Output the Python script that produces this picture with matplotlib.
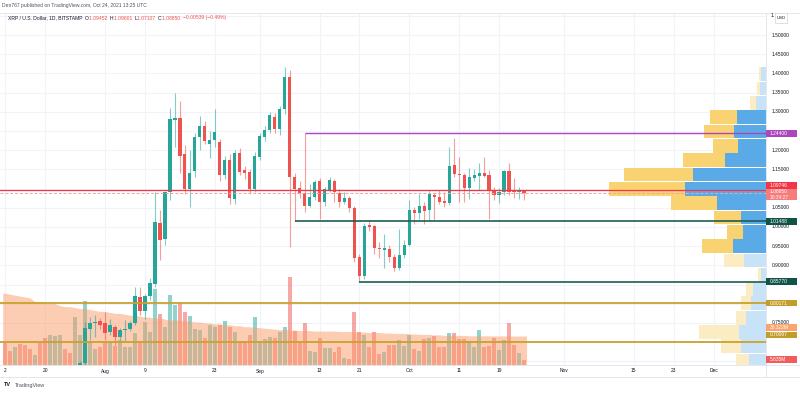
import numpy as np
import matplotlib
matplotlib.use("Agg")
import matplotlib.pyplot as plt
import matplotlib.transforms as mtransforms
from matplotlib.patches import Rectangle

# daily candles, XRP/USD Bitstamp, Jul 12 .. Oct 24 2021 (index 0 = Jul 12)
opens = [0.620, 0.600, 0.590, 0.600, 0.575, 0.565, 0.560, 0.575, 0.550, 0.520,
         0.590, 0.600, 0.610, 0.605, 0.600, 0.620, 0.647, 0.734, 0.749, 0.755,
         0.749, 0.727, 0.739, 0.714, 0.732, 0.735, 0.749, 0.817, 0.780, 0.819,
         0.852, 1.011, 0.968, 1.092, 1.279, 1.285, 1.189, 1.098, 1.146, 1.234,
         1.263, 1.216, 1.227, 1.222, 1.135, 1.175, 1.072, 1.192, 1.149, 1.142,
         1.098, 1.183, 1.235, 1.253, 1.287, 1.255, 1.306, 1.390, 1.131, 1.101,
         1.088, 1.055, 1.079, 1.120, 1.064, 1.096, 1.121, 1.089, 1.066, 1.075,
         1.049, 0.923, 0.872, 1.005, 1.002, 0.946, 0.940, 0.942, 0.923, 0.892,
         0.927, 0.953, 1.043, 1.037, 1.055, 1.044, 1.083, 1.077, 1.068, 1.063,
         1.161, 1.138, 1.135, 1.101, 1.127, 1.134, 1.141, 1.135, 1.095, 1.083,
         1.092, 1.147, 1.095, 1.090, 1.09452]
highs = [0.630, 0.612, 0.610, 0.605, 0.590, 0.580, 0.585, 0.580, 0.555, 0.600,
         0.605, 0.620, 0.615, 0.612, 0.630, 0.650, 0.753, 0.766, 0.771, 0.762,
         0.779, 0.760, 0.745, 0.738, 0.758, 0.755, 0.845, 0.845, 0.825, 0.867,
         1.092, 1.044, 1.095, 1.309, 1.348, 1.329, 1.214, 1.200, 1.245, 1.289,
         1.275, 1.250, 1.306, 1.230, 1.185, 1.190, 1.200, 1.205, 1.160, 1.150,
         1.195, 1.245, 1.262, 1.300, 1.298, 1.315, 1.416, 1.410, 1.140, 1.120,
         1.244, 1.113, 1.123, 1.128, 1.105, 1.131, 1.125, 1.100, 1.092, 1.080,
         1.055, 0.930, 1.010, 1.017, 1.005, 0.960, 0.982, 0.953, 0.930, 0.994,
         0.966, 1.070, 1.051, 1.086, 1.066, 1.096, 1.089, 1.096, 1.092, 1.209,
         1.231, 1.183, 1.140, 1.153, 1.150, 1.166, 1.183, 1.148, 1.105, 1.101,
         1.148, 1.167, 1.127, 1.105, 1.09601]
lows = [0.595, 0.585, 0.585, 0.570, 0.560, 0.555, 0.555, 0.540, 0.510, 0.515,
        0.575, 0.590, 0.595, 0.590, 0.585, 0.612, 0.640, 0.706, 0.714, 0.735,
        0.706, 0.718, 0.693, 0.705, 0.701, 0.728, 0.745, 0.771, 0.760, 0.810,
        0.845, 0.914, 0.953, 1.070, 1.209, 1.140, 1.085, 1.053, 1.130, 1.200,
        1.215, 1.180, 1.209, 1.120, 1.125, 1.060, 1.060, 1.135, 1.125, 1.085,
        1.090, 1.175, 1.225, 1.245, 1.245, 1.240, 1.295, 0.949, 1.01488, 1.075,
        1.040, 1.051, 1.070, 1.022, 1.055, 1.090, 1.066, 1.051, 1.060, 1.040,
        0.910, 0.8577, 0.865, 0.990, 0.930, 0.918, 0.892, 0.910, 0.886, 0.887,
        0.920, 0.950, 1.009, 1.020, 1.009, 1.018, 1.018, 1.061, 1.051, 1.057,
        1.130, 1.066, 1.066, 1.074, 1.120, 1.096, 1.130, 1.022, 1.070, 1.063,
        1.083, 1.083, 1.075, 1.072, 1.07107]
closes = [0.600, 0.590, 0.600, 0.575, 0.565, 0.560, 0.575, 0.550, 0.520, 0.590,
          0.600, 0.610, 0.605, 0.600, 0.620, 0.645, 0.736, 0.751, 0.753, 0.745,
          0.725, 0.745, 0.714, 0.732, 0.735, 0.749, 0.819, 0.780, 0.819, 0.853,
          1.014, 0.966, 1.090, 1.280, 1.285, 1.185, 1.098, 1.141, 1.234, 1.263,
          1.225, 1.227, 1.248, 1.135, 1.175, 1.075, 1.192, 1.144, 1.140, 1.098,
          1.186, 1.237, 1.253, 1.292, 1.255, 1.306, 1.390, 1.129, 1.098, 1.088,
          1.055, 1.079, 1.116, 1.064, 1.098, 1.122, 1.090, 1.066, 1.075, 1.049,
          0.920, 0.872, 1.003, 1.001, 0.944, 0.942, 0.946, 0.921, 0.892, 0.927,
          0.953, 1.043, 1.036, 1.055, 1.042, 1.086, 1.077, 1.066, 1.063, 1.159,
          1.138, 1.136, 1.101, 1.129, 1.135, 1.141, 1.134, 1.095, 1.083, 1.092,
          1.146, 1.092, 1.090, 1.095, 1.08850]

# volume in millions XRP
volume = [22.7, 15, 18.5, 22, 21, 16.4, 10.5, 22.7, 27.9, 31.4,
          30.3, 31.4, 16.4, 12.2, 49.9, 31.4, 67, 24, 17, 18.5,
          22.7, 24, 20, 26, 18.5, 18.5, 33, 24, 45, 35,
          79, 53, 40, 73, 63, 65, 55, 51, 38, 37,
          28, 42, 40, 42, 46, 40, 35, 24, 24, 31,
          50, 24, 27, 29, 28, 35, 40, 92, 36, 24,
          44, 15, 14, 28, 17.4, 17.4, 14, 18.5, 7, 6,
          55, 34, 31, 19, 35, 11.5, 14, 21, 21, 26,
          20, 31, 16.6, 15, 27, 28, 30, 19, 19, 33,
          33, 27, 27, 25, 19, 37, 18.6, 20, 28, 16,
          26.6, 43.6, 21, 13, 5.635]
# volume moving average (millions)
volumeMA = [75, 74, 73, 72, 71, 70, 66, 66, 65, 65,
            64, 62, 61, 61, 60, 59, 59, 58, 57, 56,
            56, 55, 54, 54, 53, 52, 52, 51, 50, 50,
            49, 49, 48, 47, 47, 47, 46, 46, 45, 45,
            44, 44, 43, 43, 42, 42, 41, 41, 40, 40,
            39.5, 39, 38.5, 38, 37.5, 37, 37, 36.5, 36.5, 36,
            36, 36, 35.5, 35.5, 35.5, 35.5, 35.5, 35, 35, 35,
            34.5, 34.5, 34.5, 34, 34, 34, 33.5, 33.5, 33, 33,
            33, 32.5, 32.5, 32, 32, 32, 31.5, 31.5, 31, 31,
            31, 31, 31, 30.5, 30.5, 30.5, 30.5, 30.5, 30.4, 30.4,
            30.4, 30.3, 30.3, 30.3, 30.322]

# visible range volume profile: bin bottoms, up / down volume, value area flag
vpBottom = [0.634, 0.671, 0.708, 0.745, 0.783, 0.820, 0.857, 0.894, 0.931, 0.969,
            1.006, 1.043, 1.081, 1.118, 1.155, 1.193, 1.230, 1.267, 1.305, 1.342, 1.379]
vpUp = [17, 25, 27, 20, 15, 13, 5, 21.7, 33.3, 22.7,
        24.7, 49.3, 80.7, 73.3, 41.3, 28, 32, 29, 10.5, 6.5, 5]
vpDown = [13, 20, 40, 10, 10, 7, 3, 20.3, 30.4, 16,
          27.3, 46, 76, 68.4, 42, 25.3, 30, 27, 6, 2.5, 2]
vpValueArea = [False] * 8 + [True] * 10 + [False] * 3
vpBinHeight = 0.0373

# x axis
tickDays = [0, 8, 20, 28, 42, 51, 63, 71, 81, 91, 99, 112, 126, 134, 142]
tickLabels = ["2", "20", "Aug", "9", "23", "Sep", "13", "21", "Oct", "11", "19",
              "Nov", "15", "23", "Dec"]
priceTicks = [1.50, 1.45, 1.40, 1.35, 1.30, 1.20, 1.15, 1.05, 1.00, 0.95, 0.90, 0.75]
gridPrices = np.arange(0.65, 1.56, 0.05)

GREEN = "#26a69a"
RED = "#ef5350"
GOLD = "#c9a22c"
DARKGREEN = "#1d5e50"
PURPLE = "#ab47bc"

FW, FH = 800, 393
fig = plt.figure(figsize=(FW / 100, FH / 100), dpi=100)
rect = [0, 1 - 365 / FH, 766 / FW, (365 - 13) / FH]
axv = fig.add_axes(rect)
ax = fig.add_axes(rect)
ax.set_zorder(2)
axv.set_zorder(1)
ax.patch.set_visible(False)

xmin, xmax = -1.055, 152.5
ax.set_xlim(xmin, xmax)
axv.set_xlim(xmin, xmax)
ax.set_ylim(0.6406, 1.5573)
axv.set_ylim(0, 368)

for a in (ax, axv):
    a.set_xticks([])
    a.set_yticks([])
    for s in a.spines.values():
        s.set_visible(False)

idx = np.arange(len(opens))
o = np.array(opens)
c = np.array(closes)
up = c >= o
colors = np.where(up, GREEN, RED)

# grid
gridTrans = mtransforms.blended_transform_factory(axv.transAxes, ax.transData)
for p in gridPrices:
    axv.plot([0, 1], [p, p], transform=gridTrans, color="#f0f3fa", lw=0.8, zorder=0)
for d in tickDays:
    axv.axvline(d, color="#f0f3fa", lw=0.8, zorder=0)

# volume bars + MA area
volColors = np.where(up, "#26a69a80", "#ef535080")
axv.bar(idx, volume, width=0.8, color=volColors, zorder=1)
maX = np.r_[idx[0] - 0.5, idx, idx[-1] + 0.5]
maY = np.r_[volumeMA[0], volumeMA, volumeMA[-1]]
axv.fill_between(maX, 0, maY, color="#fb9b69", alpha=0.5, lw=0, zorder=2)

# candles
wickColors = np.where(up, "#26a69a90", "#ef535090")
ax.vlines(idx, lows, highs, colors=wickColors, lw=0.8, zorder=2)
bodyH = np.maximum(np.abs(c - o), 0.002)
ax.bar(idx, bodyH, bottom=np.minimum(o, c), width=0.66, color=colors, zorder=3)

# volume profile on the right edge
vpTrans = mtransforms.blended_transform_factory(ax.transAxes, ax.transData)
vpScale = (156.7 / 766) / max(u + d for u, d in zip(vpUp, vpDown))
for b, u, d, va in zip(vpBottom, vpUp, vpDown, vpValueArea):
    upC = "#5aaae8" if va else "#c8e2f7"
    dnC = "#f9d271" if va else "#fcecc4"
    wu, wd = u * vpScale, d * vpScale
    ax.add_patch(Rectangle((1 - wu, b + 0.0008), wu, vpBinHeight - 0.0016,
                           transform=vpTrans, facecolor=upC, lw=0, zorder=4))
    ax.add_patch(Rectangle((1 - wu - wd, b + 0.0008), wd, vpBinHeight - 0.0016,
                           transform=vpTrans, facecolor=dnC, lw=0, zorder=4))

# drawn levels
ax.hlines(1.244, 60, xmax, color=PURPLE, lw=1.0, zorder=5)
ax.hlines(1.01488, 58, xmax, color=DARKGREEN, lw=1.2, zorder=5)
ax.hlines(0.85770, 71, xmax, color=DARKGREEN, lw=1.2, zorder=5)
ax.axhline(0.80171, color=GOLD, lw=1.3, zorder=5)
ax.axhline(0.70097, color=GOLD, lw=1.3, zorder=5)
ax.axhline(1.0885, color="#f5a3a3", lw=0.7, ls=(0, (3, 2)), zorder=5)
ax.axhline(1.09746, color="#f23645", lw=0.9, zorder=6)

# frame lines
def figLine(x0, y0, x1, y1, color="#e0e3eb"):
    fig.add_artist(plt.Line2D([x0 / FW, x1 / FW], [1 - y0 / FH, 1 - y1 / FH],
                              color=color, lw=0.6, transform=fig.transFigure))

figLine(0, 13, 800, 13)
figLine(0, 365, 800, 365)
figLine(0, 377, 800, 377)
figLine(766, 13, 766, 377)

FONT = "Liberation Sans"
TXT = "#131722"
AXFS = 3.5

# price scale
for p in priceTicks:
    yPix = ax.transData.transform((0, p))[1]
    fig.text(772 / FW, yPix / FH, f"{p:.5f}", fontsize=AXFS, family=FONT, color=TXT,
             ha="left", va="center")
# top tick is mostly hidden behind the currency box
yTop = ax.transData.transform((0, 1.55))[1]
fig.text(771 / FW, yTop / FH, "1.", fontsize=AXFS, family=FONT, color=TXT,
         ha="left", va="center")

def axisLabel(axSrc, value, text, bg, shift=0, h=6.6, text2=None, fg="white"):
    yPix = axSrc.transData.transform((0, value))[1] + shift
    fig.add_artist(Rectangle((766 / FW, (yPix - h / 2) / FH), 31 / FW, h / FH,
                             transform=fig.transFigure, facecolor=bg, lw=0, zorder=5))
    if text2 is None:
        fig.text(770 / FW, yPix / FH, text, fontsize=AXFS, family=FONT, color=fg,
                 ha="left", va="center", zorder=6)
    else:
        fig.text(770 / FW, (yPix + h / 4) / FH, text, fontsize=AXFS, family=FONT, color=fg,
                 ha="left", va="center", zorder=6)
        fig.text(770 / FW, (yPix - h / 4) / FH, text2, fontsize=AXFS, family=FONT, color=fg,
                 ha="left", va="center", zorder=6)

axisLabel(ax, 1.244, "1.24400", PURPLE)
axisLabel(ax, 1.09746, "1.09746", "#f23645", shift=4)
axisLabel(ax, 1.0885, "1.08850", "#f77c7c", shift=-1.5, h=11, text2="10:34:27")
axisLabel(ax, 1.01488, "1.01488", "#0f5446")
axisLabel(ax, 0.85770, "0.85770", "#0f5446")
axisLabel(ax, 0.80171, "0.80171", "#c39d2a")
axisLabel(axv, 30.322, "30.322M", "#fba36b", shift=8.5)
axisLabel(ax, 0.70097, "0.70097", "#c39d2a", shift=7)
axisLabel(axv, 5.635, "5.635M", "#f25c5c")

# USD box
fig.add_artist(Rectangle((775 / FW, 1 - 22.5 / FH), 12 / FW, 9 / FH, transform=fig.transFigure,
                         facecolor="white", edgecolor="#d1d4dc", lw=0.5, zorder=5))
fig.text(781 / FW, 1 - 18 / FH, "USD", fontsize=3.1, family=FONT, color=TXT,
         ha="center", va="center", zorder=6)

# date axis
for d, lab in zip(tickDays, tickLabels):
    xPix = ax.transData.transform((d, 0))[0]
    fig.text(xPix / FW, 1 - 371 / FH, lab, fontsize=AXFS, family=FONT, color=TXT,
             ha="center", va="center")

# header texts
fig.text(2 / FW, 1 - 6 / FH, "Den767 published on TradingView.com, Oct 24, 2021 13:25 UTC",
         fontsize=3.6, family=FONT, color="#50535e", ha="left", va="center")

parts = [("XRP / U.S. Dollar, 1D, BITSTAMP  ", TXT), ("O", TXT), ("1.09452  ", RED),
         ("H", TXT), ("1.09601  ", RED), ("L", TXT), ("1.07107  ", RED),
         ("C", TXT), ("1.08850  ", RED), ("\u22120.00539 (\u22120.49%)", RED)]
HFS = 3.65
lastText = None
for s, col in parts:
    if lastText is None:
        lastText = fig.text(8 / FW, 1 - 18 / FH, s, fontsize=HFS, family=FONT, color=col,
                            ha="left", va="center")
    else:
        lastText = ax.annotate(s, xy=(1, 0.5), xycoords=lastText, fontsize=HFS,
                               family=FONT, color=col, ha="left", va="center",
                               annotation_clip=False)

fig.text(4 / FW, 1 - 385 / FH, "TV", fontsize=4, family=FONT, weight="bold",
         color=TXT, ha="left", va="center")
fig.text(15 / FW, 1 - 385 / FH, "TradingView", fontsize=4, family=FONT,
         color="#50535e", ha="left", va="center")

fig.savefig("out.png", dpi=100)
